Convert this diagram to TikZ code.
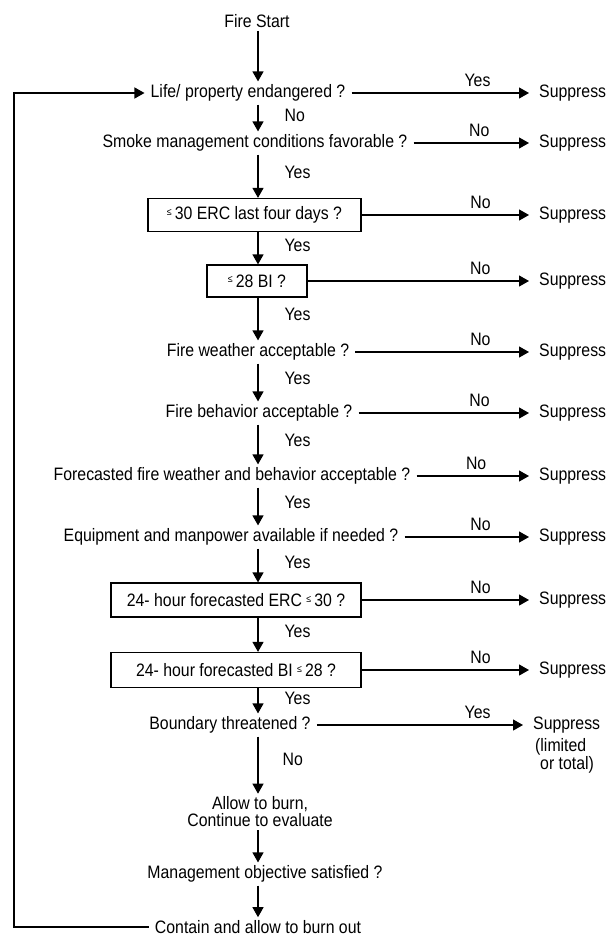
\documentclass[tikz,border=0pt]{standalone}
\usepackage{fontspec}
\setmainfont[FakeStretch=0.88]{Liberation Sans}
\usetikzlibrary{positioning, arrows.meta}
\newcommand{\smallle}{\raisebox{0.45ex}{\fontsize{10}{10}\selectfont ≤}}
\tikzset{
  >={Triangle[length=10pt, width=11pt]},
  query/.style={inner xsep=6pt, inner ysep=3pt},
  test/.style={draw, line width=1.2pt, minimum height=33pt, inner sep=0pt},
  outcome/.style={anchor=west, inner xsep=10pt, inner ysep=3pt},
  flow/.style={->, line width=1.2pt},
  tag/.style={inner sep=2pt},
}

\begin{document}
\begin{tikzpicture}[x=1pt, y=-1pt, font=\fontsize{18}{20}\selectfont]
      \useasboundingbox (0,0) rectangle (613,936);
      \coordinate (spine) at (258,0);
      \coordinate (loop) at (14,0);
      % main column
      \node[query] (start) at (257,21) {Fire Start};
      \node[query] (life) at (248,93) {Life/ property endangered ?};
      \node[query] (smoke) at (255,143) {Smoke management conditions favorable ?};
      \node[test, minimum width=213pt] (erc) at (254.5,215) {\smallle\,30 ERC last four days ?};
      \node[test, minimum width=100pt, minimum height=32pt] (bi) at (257,281) {\smallle\,28 BI ?};
      \node[query] (fwx) at (258,352) {Fire weather acceptable ?};
      \node[query] (fbeh) at (259,413) {Fire behavior acceptable ?};
      \node[query] (fcst) at (232,476) {Forecasted fire weather and behavior acceptable ?};
      \node[query] (equip) at (231,537) {Equipment and manpower available if needed ?};
      \node[test, minimum width=250pt, minimum height=34pt] (ercf) at (236,600) {24- hour forecasted ERC \smallle\,30 ?};
      \node[test, minimum width=250pt, minimum height=35pt] (bif) at (236,670) {24- hour forecasted BI \smallle\,28 ?};
      \node[query] (bound) at (230,725) {Boundary threatened ?};
      \node[query, align=center, font=\fontsize{18}{17}\selectfont] (allow) at (260,812) {Allow to burn,\\Continue to evaluate};
      \node[query] (mgmt) at (265,874) {Management objective satisfied ?};
      \node[query] (contain) at (258,927) {Contain and allow to burn out};
      % suppress column
      \node[outcome] (s1) at (529,93) {Suppress};
      \node[outcome] (s2) at (529,143) {Suppress};
      \node[outcome] (s3) at (529,215) {Suppress};
      \node[outcome] (s4) at (529,281) {Suppress};
      \node[outcome] (s5) at (529,352) {Suppress};
      \node[outcome] (s6) at (529,413) {Suppress};
      \node[outcome] (s7) at (529,476) {Suppress};
      \node[outcome] (s8) at (529,537) {Suppress};
      \node[outcome] (s9) at (529,600) {Suppress};
      \node[outcome] (s10) at (529,670) {Suppress};
      \node[outcome] (s11) at (523,725) {Suppress};
      \node[anchor=north west, align=left, inner sep=0pt, font=\fontsize{18}{16}\selectfont] (lim) at ([xshift=12pt, yshift=-2pt]s11.south west) {(limited\\\hspace*{5pt}or total)};
      % down the spine
      \draw[flow] (start.south -| spine) -- (life.north -| spine);
      \draw[flow] (life.south -| spine) -- node[tag, right=24pt, pos=.4] (n1) {No} (smoke.north -| spine);
      \draw[flow] (smoke.south -| spine) -- node[tag, right=24pt, pos=.4] (n2) {Yes} (erc.north -| spine);
      \draw[flow] (erc.south -| spine) -- node[tag, right=24pt, pos=.4] (n3) {Yes} (bi.north -| spine);
      \draw[flow] (bi.south -| spine) -- node[tag, right=24pt, pos=.4] (n4) {Yes} (fwx.north -| spine);
      \draw[flow] (fwx.south -| spine) -- node[tag, right=24pt, pos=.4] (n5) {Yes} (fbeh.north -| spine);
      \draw[flow] (fbeh.south -| spine) -- node[tag, right=24pt, pos=.4] (n6) {Yes} (fcst.north -| spine);
      \draw[flow] (fcst.south -| spine) -- node[tag, right=24pt, pos=.4] (n7) {Yes} (equip.north -| spine);
      \draw[flow] (equip.south -| spine) -- node[tag, right=24pt, pos=.4] (n8) {Yes} (ercf.north -| spine);
      \draw[flow] (ercf.south -| spine) -- node[tag, right=24pt, pos=.4] (n9) {Yes} (bif.north -| spine);
      \draw[flow] (bif.south -| spine) -- node[tag, right=24pt, pos=.4] (n10) {Yes} (bound.north -| spine);
      \draw[flow] (bound.south -| spine) -- node[tag, right=22pt, pos=.4] (n11) {No} (allow.north -| spine);
      \draw[flow] (allow.south -| spine) -- (mgmt.north -| spine);
      \draw[flow] (mgmt.south -| spine) -- (contain.north -| spine);
      % out to suppress
      \draw[flow] (life.east) -- node[tag, above=4pt, pos=.71] (e1) {Yes} (s1.west);
      \draw[flow] (smoke.east) -- node[tag, above=4pt, pos=.57] (e2) {No} (s2.west);
      \draw[flow] (erc.east) -- node[tag, above=4pt, pos=.71] (e3) {No} (s3.west);
      \draw[flow] (bi.east) -- node[tag, above=4pt, pos=.78] (e4) {No} (s4.west);
      \draw[flow] (fwx.east) -- node[tag, above=4pt, pos=.72] (e5) {No} (s5.west);
      \draw[flow] (fbeh.east) -- node[tag, above=4pt, pos=.71] (e6) {No} (s6.west);
      \draw[flow] (fcst.east) -- node[tag, above=4pt, pos=.53] (e7) {No} (s7.west);
      \draw[flow] (equip.east) -- node[tag, above=4pt, pos=.61] (e8) {No} (s8.west);
      \draw[flow] (ercf.east) -- node[tag, above=4pt, pos=.71] (e9) {No} (s9.west);
      \draw[flow] (bif.east) -- node[tag, above=4pt, pos=.71] (e10) {No} (s10.west);
      \draw[flow] (bound.east) -- node[tag, above=4pt, pos=.78] (e11) {Yes} (s11.west);
      % back to the top
      \draw[flow] (contain.west) -- (contain.west -| loop) |- (life.west);
    \end{tikzpicture}
\end{document}
